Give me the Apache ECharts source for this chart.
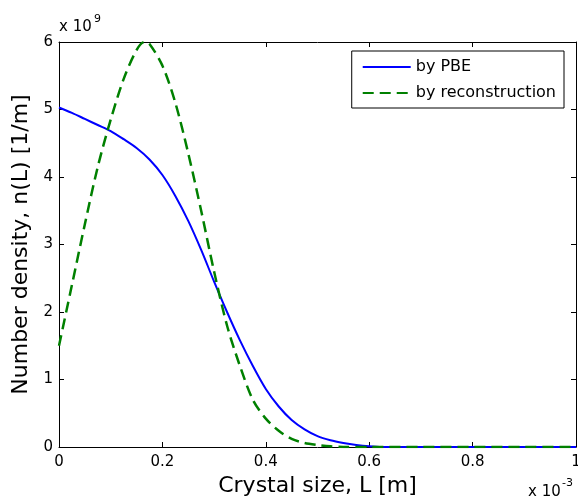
<!DOCTYPE html>
<html><head><meta charset="utf-8">
<script src="https://cdn.jsdelivr.net/npm/echarts@6/dist/echarts.min.js"></script>
<style>html,body{margin:0;padding:0;background:#fff}#c{width:578px;height:500px}</style>
</head><body><div id="c"></div>
<script>
var xTicks = [0, 0.2, 0.4, 0.6, 0.8, 1];
var yTicks = [0, 1, 2, 3, 4, 5, 6];
var pbeX = [0,0.025,0.05,0.075,0.1,0.125,0.15,0.175,0.2,0.225,0.25,0.275,0.3,0.325,0.35,0.375,0.4,0.425,0.45,0.475,0.5,0.525,0.55,0.575,0.6,0.625,0.7,0.8,0.9,1.0];
var pbeY = [5.03,4.95,4.86,4.77,4.68,4.56,4.43,4.26,4.03,3.72,3.35,2.92,2.45,2.0,1.58,1.2,0.86,0.6,0.4,0.26,0.16,0.1,0.06,0.03,0.01,0,0,0,0,0];
var recX = [0,0.025,0.05,0.075,0.1,0.125,0.15,0.165,0.175,0.2,0.225,0.25,0.275,0.3,0.325,0.35,0.375,0.4,0.425,0.45,0.475,0.5,0.525,0.55,0.6,0.7,0.8,0.9,1.0];
var recY = [1.5,2.4,3.3,4.15,4.85,5.45,5.88,6.0,5.97,5.65,5.1,4.35,3.5,2.6,1.8,1.2,0.7,0.42,0.24,0.12,0.06,0.03,0.01,0,0,0,0,0,0];
var seriesNames = ['by PBE', 'by reconstruction'];

function zip(a, b) { return a.map(function (v, i) { return [v, b[i]]; }); }
var font = 'DejaVu Sans, sans-serif';
var chart = echarts.init(document.getElementById('c'), null, {renderer: 'canvas'});
var axLine = {show: true, onZero: false, lineStyle: {color: '#000', width: 1}};
var tick = {show: true, inside: true, length: 5, lineStyle: {color: '#000'}};
function txt(t, x, y, size) {
  return {type: 'text', x: x, y: y, z: 10,
    style: {text: t, fontSize: size, fontFamily: font, fill: '#000', verticalAlign: 'top', align: 'left'}};
}
chart.setOption({
  animation: false,
  grid: {left: 59, right: 2, top: 42, bottom: 53, containLabel: false, outerBoundsMode: 'none'},
  xAxis: [{
    type: 'value', min: 0, max: 1, interval: 0.2, position: 'bottom',
    axisLine: axLine, axisTick: tick, splitLine: {show: false},
    axisLabel: {color: '#000', fontSize: 15, fontFamily: font, margin: 8,
      formatter: function (v) { return String(+v.toFixed(1)); }},
    name: 'Crystal size, L [m]', nameLocation: 'middle', nameGap: 27,
    nameTextStyle: {color: '#000', fontSize: 22, fontFamily: font}
  }, {
    type: 'value', min: 0, max: 1, interval: 0.2, position: 'top',
    axisLine: axLine, axisTick: tick, axisLabel: {show: false}, splitLine: {show: false}
  }],
  yAxis: [{
    type: 'value', min: 0, max: 6, interval: 1, position: 'left',
    axisLine: axLine, axisTick: tick, splitLine: {show: false},
    axisLabel: {color: '#000', fontSize: 15, fontFamily: font, margin: 6},
    name: 'Number density, n(L) [1/m]', nameLocation: 'middle', nameGap: 22,
    nameTextStyle: {color: '#000', fontSize: 22, fontFamily: font}
  }, {
    type: 'value', min: 0, max: 6, interval: 1, position: 'right',
    axisLine: axLine, axisTick: tick, axisLabel: {show: false}, splitLine: {show: false}
  }],
  legend: {
    right: 14, top: 51, orient: 'vertical', itemGap: 10,
    backgroundColor: '#fff', borderColor: '#000', borderWidth: 1, borderRadius: 0,
    padding: [8, 8, 7, 10], itemWidth: 48, itemHeight: 14,
    itemStyle: {opacity: 0},
    textStyle: {color: '#000', fontSize: 16, fontFamily: font},
    data: seriesNames
  },
  series: [{
    name: seriesNames[0], type: 'line', data: zip(pbeX, pbeY), symbol: 'none',
    smooth: 0.3, z: 2,
    lineStyle: {color: '#0000ff', width: 2}, itemStyle: {color: '#0000ff'}
  }, {
    name: seriesNames[1], type: 'line', data: zip(recX, recY), symbol: 'none',
    smooth: 0.3, z: 3,
    lineStyle: {color: '#008000', width: 2.5, type: [11, 6]}, itemStyle: {color: '#008000'}
  }],
  graphic: [
    txt('x 10', 59, 20, 15), txt('9', 94, 14, 11),
    txt('x 10', 528, 485, 15), txt('-3', 562, 478, 11)
  ]
});
</script></body></html>
